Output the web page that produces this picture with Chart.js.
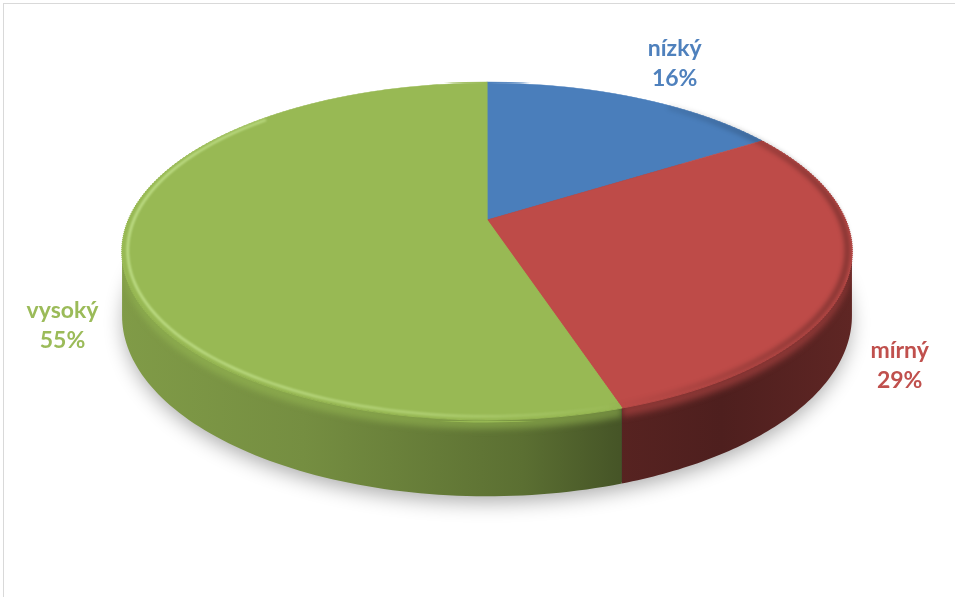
<!doctype html>
<html lang="cs">
  <head>
    <meta charset="UTF-8" />
    <title>3D výsečový graf</title>
    <script src="https://cdn.jsdelivr.net/npm/chart.js"></script>
    <style>
      html,
      body {
        margin: 0;
        padding: 0;
        background: #ffffff;
        overflow: hidden;
      }
      #frame {
        position: absolute;
        left: 3px;
        top: 3px;
        width: 970px;
        height: 610px;
        border: 1px solid #d9d9d9;
        box-sizing: border-box;
      }
      #wrap {
        position: absolute;
        left: 0;
        top: 0;
        width: 955px;
        height: 597px;
      }
    </style>
  </head>
  <body>
    <div id="frame"></div>
    <div id="wrap"><canvas id="pie"></canvas></div>

    <script>
      // data
      const categories = ["nízký", "mírný", "vysoký"];
      const shares = [16, 29, 55];
      const sliceColors = ["#4a7ebb", "#be4b48", "#98b954"];
      const labelColors = ["#4f81bd", "#c0504d", "#9bbb59"];

      function shade(hex, f) {
        const n = parseInt(hex.slice(1), 16);
        const r = Math.min(255, Math.round(((n >> 16) & 255) * f));
        const g = Math.min(255, Math.round(((n >> 8) & 255) * f));
        const b = Math.min(255, Math.round((n & 255) * f));
        return `rgb(${r},${g},${b})`;
      }

      // pie seen in perspective: the library's arcs are drawn in thin
      // horizontal bands, each with its own local affine transform
      const pie3d = {
        id: "pie3d",
        beforeDatasetsDraw(chart, args, o) {
          const ctx = chart.ctx;
          const arcs = chart.getDatasetMeta(0).data;
          if (!arcs.length) return;
          const { cx, cy, a, b, k, depth } = o;
          const proj = (u, v, drop) => {
            const d = 1 / (1 - k * v);
            return [cx + a * u * d, cy + b * v * d + drop * depth * d];
          };
          const rim = (ang, drop, f = 1) => proj(Math.cos(ang) * f, Math.sin(ang) * f, drop);

          // soft shadow under the disc
          ctx.save();
          ctx.shadowColor = "rgba(0,0,0,0.33)";
          ctx.shadowBlur = 20;
          ctx.shadowOffsetY = 7;
          ctx.fillStyle = "#3a3a3a";
          ctx.beginPath();
          for (let s = 0; s <= 120; s++) {
            const [x, y] = rim((s / 120) * Math.PI * 2, 1, 0.995);
            s === 0 ? ctx.moveTo(x, y) : ctx.lineTo(x, y);
          }
          ctx.closePath();
          ctx.fill();
          ctx.restore();

          // front walls
          const aMin = Math.asin(k);
          const aMax = Math.PI - aMin;
          arcs.forEach((arc, i) => {
            [-2 * Math.PI, 0, 2 * Math.PI].forEach((sh) => {
              const lo = Math.max(arc.startAngle + sh, aMin);
              const hi = Math.min(arc.endAngle + sh, aMax);
              if (hi <= lo) return;
              const base = sliceColors[i];
              const steps = 80;
              const top = [];
              const bot = [];
              for (let s = 0; s <= steps; s++) {
                const ang = lo + ((hi - lo) * s) / steps;
                top.push(rim(ang, 0));
                bot.push(rim(ang, 1));
              }
              const grad = ctx.createLinearGradient(cx - a * 1.02, 0, cx + a * 1.02, 0);
              grad.addColorStop(0, shade(base, 0.84));
              grad.addColorStop(0.25, shade(base, 0.77));
              grad.addColorStop(0.55, shade(base, 0.6));
              grad.addColorStop(0.68, shade(base, 0.46));
              grad.addColorStop(0.82, shade(base, 0.41));
              grad.addColorStop(1, shade(base, 0.5));
              ctx.save();
              ctx.beginPath();
              top.forEach(([x, y], j) => (j === 0 ? ctx.moveTo(x, y) : ctx.lineTo(x, y)));
              for (let j = bot.length - 1; j >= 0; j--) ctx.lineTo(bot[j][0], bot[j][1]);
              ctx.closePath();
              ctx.fillStyle = grad;
              ctx.fill();
              ctx.clip();
              // rounded bevel just under the rim
              ctx.filter = "blur(3px)";
              ctx.globalAlpha = 0.55;
              ctx.fillStyle = base;
              ctx.beginPath();
              top.forEach(([x, y], j) => (j === 0 ? ctx.moveTo(x, y - 4) : ctx.lineTo(x, y - 4)));
              for (let j = top.length - 1; j >= 0; j--) ctx.lineTo(top[j][0], top[j][1] + 9);
              ctx.closePath();
              ctx.fill();
              ctx.restore();
            });
          });

          // top face
          const a0 = arcs[0];
          const r = a0.outerRadius;
          const yTop = Math.floor(cy - b / (1 + k)) - 2;
          const yBot = Math.ceil(cy + b / (1 - k)) + 2;
          const h = 2;
          for (let yb = yTop; yb < yBot; yb += h) {
            const t = yb + h / 2 - cy;
            const v = Math.max(-1, Math.min(1, t / (b + k * t)));
            const d = 1 / (1 - k * v);
            ctx.save();
            ctx.beginPath();
            ctx.rect(0, yb, chart.width, h);
            ctx.clip();
            ctx.translate(cx, yb + h / 2 - b * d * d * v);
            ctx.scale((a * d) / r, (b * d * d) / r);
            ctx.translate(-a0.x, -a0.y);
            arcs.forEach((arc) => arc.draw(ctx));
            ctx.restore();
          }

          // bevel highlight on the front-left rim, darker rim on the right
          ctx.save();
          const hl = ctx.createLinearGradient(cx - a, 0, cx + 140, 0);
          hl.addColorStop(0, "rgba(225,255,180,0.55)");
          hl.addColorStop(0.6, "rgba(225,255,180,0.35)");
          hl.addColorStop(1, "rgba(225,255,180,0)");
          ctx.strokeStyle = hl;
          ctx.lineWidth = 2.5;
          ctx.filter = "blur(1px)";
          ctx.beginPath();
          for (let s = 0; s <= 100; s++) {
            const ang = Math.PI * (0.3 + (0.95 * s) / 100);
            const [x, y] = rim(ang, 0, 0.985);
            s === 0 ? ctx.moveTo(x, y) : ctx.lineTo(x, y);
          }
          ctx.stroke();
          const dk = ctx.createLinearGradient(cx + 120, 0, cx + a, 0);
          dk.addColorStop(0, "rgba(0,0,0,0)");
          dk.addColorStop(1, "rgba(0,0,0,0.28)");
          ctx.strokeStyle = dk;
          ctx.lineWidth = 6;
          ctx.filter = "blur(2px)";
          ctx.beginPath();
          for (let s = 0; s <= 100; s++) {
            const ang = Math.PI * (-0.3 + (0.75 * s) / 100);
            const [x, y] = rim(ang, 0, 0.988);
            s === 0 ? ctx.moveTo(x, y) : ctx.lineTo(x, y);
          }
          ctx.stroke();
          ctx.restore();

          // data labels outside the disc
          ctx.save();
          ctx.font = "bold 23px Lato";
          ctx.textAlign = "center";
          ctx.textBaseline = "middle";
          const gap = 24;
          const halfH = 30;
          arcs.forEach((arc, i) => {
            const mid = (arc.startAngle + arc.endAngle) / 2;
            const v = Math.sin(mid);
            const [x, y] = rim(mid, 0);
            let dx = x - cx;
            let dy = y - cy;
            const len = Math.hypot(dx, dy);
            dx /= len;
            dy /= len;
            const l1 = categories[i];
            const l2 = shares[i] + "%";
            const halfW = Math.max(ctx.measureText(l1).width, ctx.measureText(l2).width) / 2;
            const lx = x + dx * (gap + halfW);
            const ly = y + dy * (gap + halfH) + (v > 0 ? depth / (1 - k * v) + 12 : 0);
            ctx.fillStyle = labelColors[i];
            ctx.fillText(l1, lx, ly - 15);
            ctx.fillText(l2, lx, ly + 15);
          });
          ctx.restore();
          return false;
        },
      };

      document.fonts.load("bold 23px Lato").then(() => {
        new Chart(document.getElementById("pie"), {
          type: "pie",
          data: {
            labels: categories,
            datasets: [
              {
                data: shares,
                backgroundColor: sliceColors,
                borderColor: sliceColors,
                borderWidth: 1,
                clip: false,
              },
            ],
          },
          options: {
            responsive: true,
            maintainAspectRatio: false,
            animation: false,
            events: [],
            layout: { padding: 20 },
            plugins: {
              legend: { display: false },
              tooltip: { enabled: false },
              pie3d: { cx: 487, cy: 220, a: 358.5, b: 162.6, k: 0.187, depth: 62 },
            },
          },
          plugins: [pie3d],
        });
      });
    </script>
  </body>
</html>
